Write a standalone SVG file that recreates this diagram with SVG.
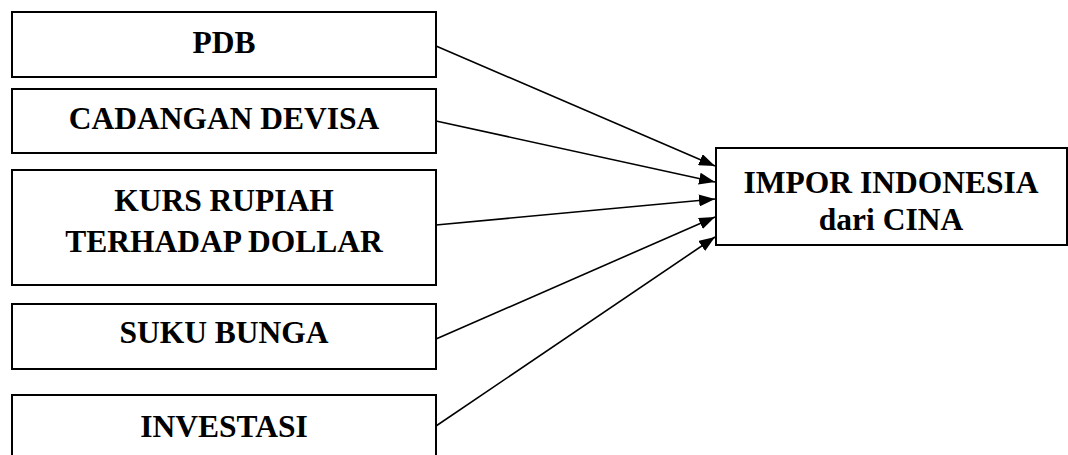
<svg xmlns="http://www.w3.org/2000/svg" width="1068" height="455" viewBox="0 0 1068 455">
  <style>
    .box { fill: #ffffff; stroke: #000000; stroke-width: 2; }
    .label { font-family: "Liberation Serif", "Times New Roman", serif; font-weight: bold; font-size: 31.5px; fill: #000000; text-anchor: middle; }
    .edge { stroke: #000000; stroke-width: 1.6; fill: none; marker-end: url(#arrow); }
  </style>
  <defs>
    <marker id="arrow" viewBox="0 0 16 12" refX="16" refY="6" markerUnits="userSpaceOnUse" markerWidth="16" markerHeight="12" orient="auto">
      <path d="M0,0 L16,6 L0,12 Z" fill="#000000"/>
    </marker>
  </defs>
  <rect width="1068" height="455" fill="#ffffff"/>

  <g id="node-pdb">
    <rect class="box" x="12" y="12" width="424" height="65"/>
    <text class="label" x="224" y="53">PDB</text>
  </g>
  <g id="node-cadangan-devisa">
    <rect class="box" x="12" y="89" width="424" height="64"/>
    <text class="label" x="224" y="129">CADANGAN DEVISA</text>
  </g>
  <g id="node-kurs">
    <rect class="box" x="12" y="170" width="424" height="115"/>
    <text class="label" x="224" y="211">KURS RUPIAH</text>
    <text class="label" x="224" y="252">TERHADAP DOLLAR</text>
  </g>
  <g id="node-suku-bunga">
    <rect class="box" x="12" y="304" width="424" height="65"/>
    <text class="label" x="224" y="343">SUKU BUNGA</text>
  </g>
  <g id="node-investasi">
    <rect class="box" x="12" y="395" width="424" height="70"/>
    <text class="label" x="224" y="437">INVESTASI</text>
  </g>
  <g id="node-impor">
    <rect class="box" x="716" y="148" width="351" height="97"/>
    <text class="label" x="891" y="193">IMPOR INDONESIA</text>
    <text class="label" x="891" y="230">dari CINA</text>
  </g>

  <g id="connectors">
    <line class="edge" x1="436" y1="46" x2="715" y2="166"/>
    <line class="edge" x1="436" y1="121" x2="715" y2="182"/>
    <line class="edge" x1="436" y1="225" x2="715" y2="199"/>
    <line class="edge" x1="436" y1="339" x2="715" y2="217"/>
    <line class="edge" x1="436" y1="426" x2="715" y2="237"/>
  </g>
</svg>
